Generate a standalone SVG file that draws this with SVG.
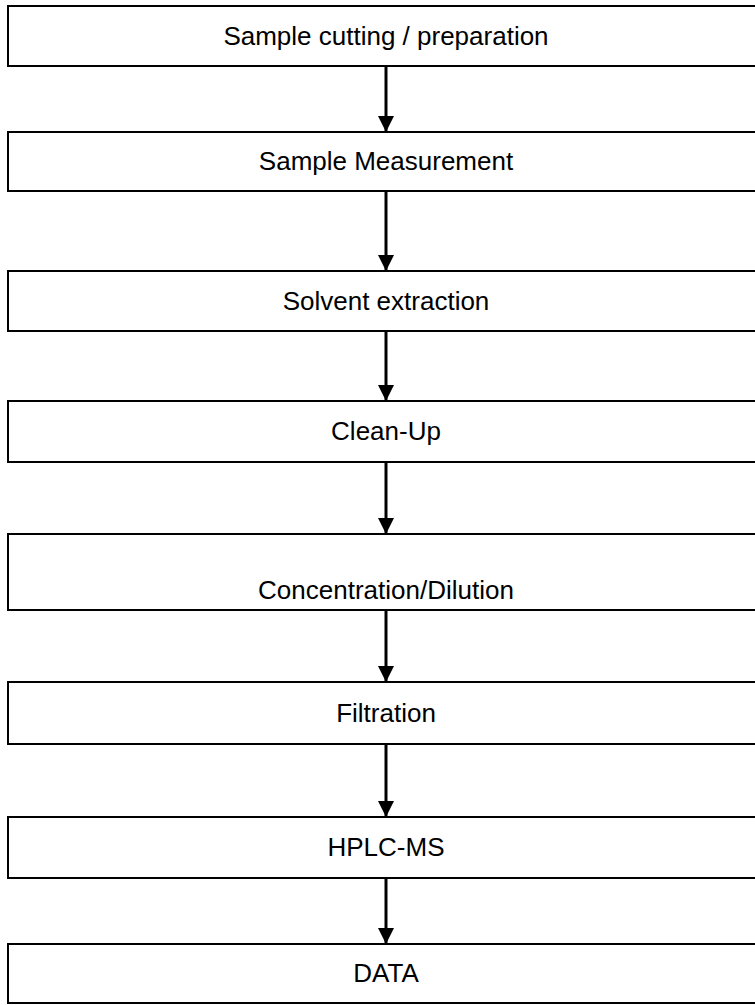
<svg xmlns="http://www.w3.org/2000/svg" width="755" height="1005" viewBox="0 0 755 1005">
  <style>
    .box { fill: #ffffff; stroke: #000000; stroke-width: 2; }
    .label { font-family: "Liberation Sans", Arial, sans-serif; font-size: 26px; fill: #000000; text-anchor: middle; }
    .conn { stroke: #000000; stroke-width: 3; fill: none; marker-end: url(#arrow); }
  </style>
  <defs>
    <marker id="arrow" markerUnits="userSpaceOnUse" markerWidth="16" markerHeight="16" refX="16" refY="8" orient="auto" viewBox="0 0 16 16">
      <path d="M0,0 L16,8 L0,16 Z" fill="#000000"/>
    </marker>
  </defs>
  <rect width="755" height="1005" fill="#ffffff"/>
  <g id="connectors">
    <line class="conn" x1="386" y1="67" x2="386" y2="132"/>
    <line class="conn" x1="386" y1="192" x2="386" y2="271"/>
    <line class="conn" x1="386" y1="332" x2="386" y2="401"/>
    <line class="conn" x1="386" y1="463" x2="386" y2="534"/>
    <line class="conn" x1="386" y1="611" x2="386" y2="682"/>
    <line class="conn" x1="386" y1="745" x2="386" y2="817"/>
    <line class="conn" x1="386" y1="879" x2="386" y2="944"/>
  </g>
  <g id="node1">
    <rect class="box" x="8" y="6" width="760" height="60"/>
    <text class="label" x="386" y="45">Sample cutting / preparation</text>
  </g>
  <g id="node2">
    <rect class="box" x="8" y="132" width="760" height="59"/>
    <text class="label" x="386" y="170">Sample Measurement</text>
  </g>
  <g id="node3">
    <rect class="box" x="8" y="271" width="760" height="60"/>
    <text class="label" x="386" y="310">Solvent extraction</text>
  </g>
  <g id="node4">
    <rect class="box" x="8" y="401" width="760" height="61"/>
    <text class="label" x="386" y="440">Clean-Up</text>
  </g>
  <g id="node5">
    <rect class="box" x="8" y="534" width="760" height="76"/>
    <text class="label" x="386" y="599">Concentration/Dilution</text>
  </g>
  <g id="node6">
    <rect class="box" x="8" y="682" width="760" height="62"/>
    <text class="label" x="386" y="722">Filtration</text>
  </g>
  <g id="node7">
    <rect class="box" x="8" y="817" width="760" height="61"/>
    <text class="label" x="386" y="856">HPLC-MS</text>
  </g>
  <g id="node8">
    <rect class="box" x="8" y="944" width="760" height="59"/>
    <text class="label" x="386" y="982">DATA</text>
  </g>
</svg>
